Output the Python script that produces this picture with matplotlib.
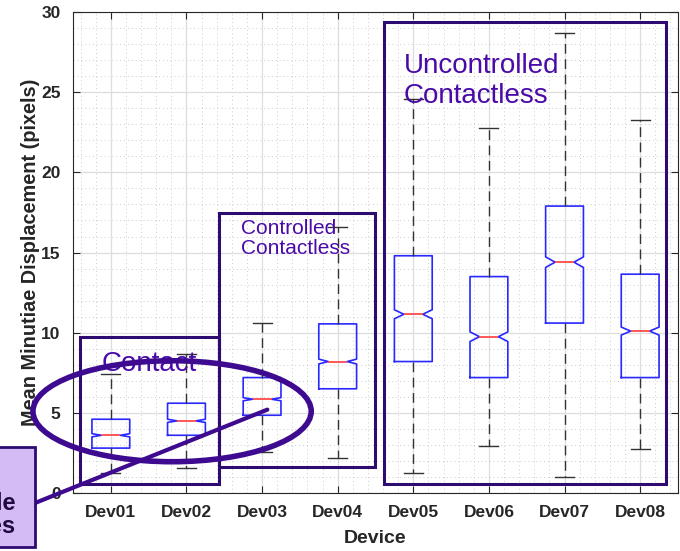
import numpy as np
import matplotlib
matplotlib.use("Agg")
import matplotlib.pyplot as plt
from matplotlib.patches import Rectangle, Ellipse
from matplotlib.ticker import MultipleLocator

plt.rcParams['font.family'] = ['Liberation Sans', 'DejaVu Sans']

# data
devices = ['Dev01', 'Dev02', 'Dev03', 'Dev04', 'Dev05', 'Dev06', 'Dev07', 'Dev08']
whislo = [1.25, 1.55, 2.55, 2.2, 1.25, 2.95, 1.0, 2.75]
q1 = [2.8, 3.6, 4.85, 6.5, 8.2, 7.2, 10.6, 7.2]
med = [3.6, 4.5, 5.85, 8.2, 11.15, 9.75, 14.4, 10.1]
q3 = [4.6, 5.6, 7.2, 10.55, 14.8, 13.5, 17.9, 13.65]
whishi = [7.4, 8.7, 10.6, 16.6, 24.6, 22.8, 28.7, 23.3]
notch = [0.1, 0.1, 0.1, 0.15, 0.28, 0.3, 0.33, 0.25]

stats = []
for i in range(len(devices)):
    stats.append(dict(label=devices[i], whislo=whislo[i], q1=q1[i], med=med[i],
                      q3=q3[i], whishi=whishi[i], cilo=med[i] - notch[i],
                      cihi=med[i] + notch[i], fliers=[]))

fig = plt.figure(figsize=(6.8, 5.51), dpi=100)
ax = fig.add_axes([0.1074, 0.1053, 0.8896, 0.8727])

ax.bxp(stats, positions=np.arange(1, 9), widths=0.5, shownotches=True,
       boxprops=dict(color='#2828ff', linewidth=1.2),
       medianprops=dict(color='#ff4a4a', linewidth=1.3),
       whiskerprops=dict(color='#333333', linewidth=1.0, linestyle=(0, (7, 4))),
       capprops=dict(color='#333333', linewidth=1.0))

ax.set_xlim(0.5, 8.5)
ax.set_ylim(0, 30)
ax.yaxis.set_major_locator(MultipleLocator(5))
ax.yaxis.set_minor_locator(MultipleLocator(1))
ax.xaxis.set_minor_locator(MultipleLocator(0.2))
ax.grid(True, which='major', color='#dddddd', linewidth=0.9)
ax.grid(True, which='minor', color='#cccccc', linewidth=0.7, linestyle=(0, (1, 3)))
ax.set_axisbelow(True)
ax.tick_params(which='major', direction='in', top=True, right=True, length=5,
               color='#262626', labelsize=12.5, labelcolor='#262626', pad=9)
ax.tick_params(which='minor', length=0)
for lab in ax.get_xticklabels() + ax.get_yticklabels():
    lab.set_fontweight('bold')
for s in ax.spines.values():
    s.set_color('#262626')
    s.set_linewidth(0.8)

ax.set_xlabel('Device', fontsize=14, fontweight='bold', color='#262626', labelpad=7)
ax.set_ylabel('Mean Minutiae Displacement (pixels)', fontsize=14.3, fontweight='bold',
              color='#262626', labelpad=1)

# group annotations
edge = '#2e0b70'
txt = '#4a0aa8'
ax.add_patch(Rectangle((0.593, 0.56), 2.434 - 0.593, 9.73 - 0.56, fill=False,
                       edgecolor=edge, linewidth=2.2, clip_on=False, zorder=5))
ax.add_patch(Rectangle((2.434, 1.62), 4.487 - 2.434, 17.47 - 1.62, fill=False,
                       edgecolor=edge, linewidth=2.2, clip_on=False, zorder=5))
ax.add_patch(Rectangle((4.606, 0.56), 8.34 - 4.606, 29.38 - 0.56, fill=False,
                       edgecolor=edge, linewidth=2.2, clip_on=False, zorder=5))
ax.text(0.88, 7.6, 'Contact', fontsize=20, color=txt, zorder=6)
ax.text(2.72, 14.9, 'Controlled\nContactless', fontsize=15, color=txt,
        linespacing=1.1, zorder=6)
ax.text(4.87, 24.3, 'Uncontrolled\nContactless', fontsize=20, color=txt,
        linespacing=1.2, zorder=6)

ax.add_patch(Ellipse((1.81, 5.1), 3.68, 6.3, fill=False, edgecolor='#3d0a90',
                     linewidth=4, clip_on=False, zorder=7))

# callout
ax.annotate('', xy=(3.07, 5.2), xytext=(35, 48), textcoords='figure pixels',
            xycoords='data',
            arrowprops=dict(arrowstyle='-', color='#3d0a90', linewidth=3,
                            shrinkA=0, shrinkB=0), zorder=7)
fig.patches.append(Rectangle((-80, 4), 115, 100, transform=None, figure=fig,
                             facecolor='#d4bbf6', edgecolor='#2e0b70', linewidth=2))
fig.text(16 / 680, 36 / 551, 'Comparable\nDevices', fontsize=17, fontweight='bold',
         color='#1e0a3c', ha='right', va='center', multialignment='right',
         linespacing=1.0)

fig.savefig('out.png', dpi=100)
